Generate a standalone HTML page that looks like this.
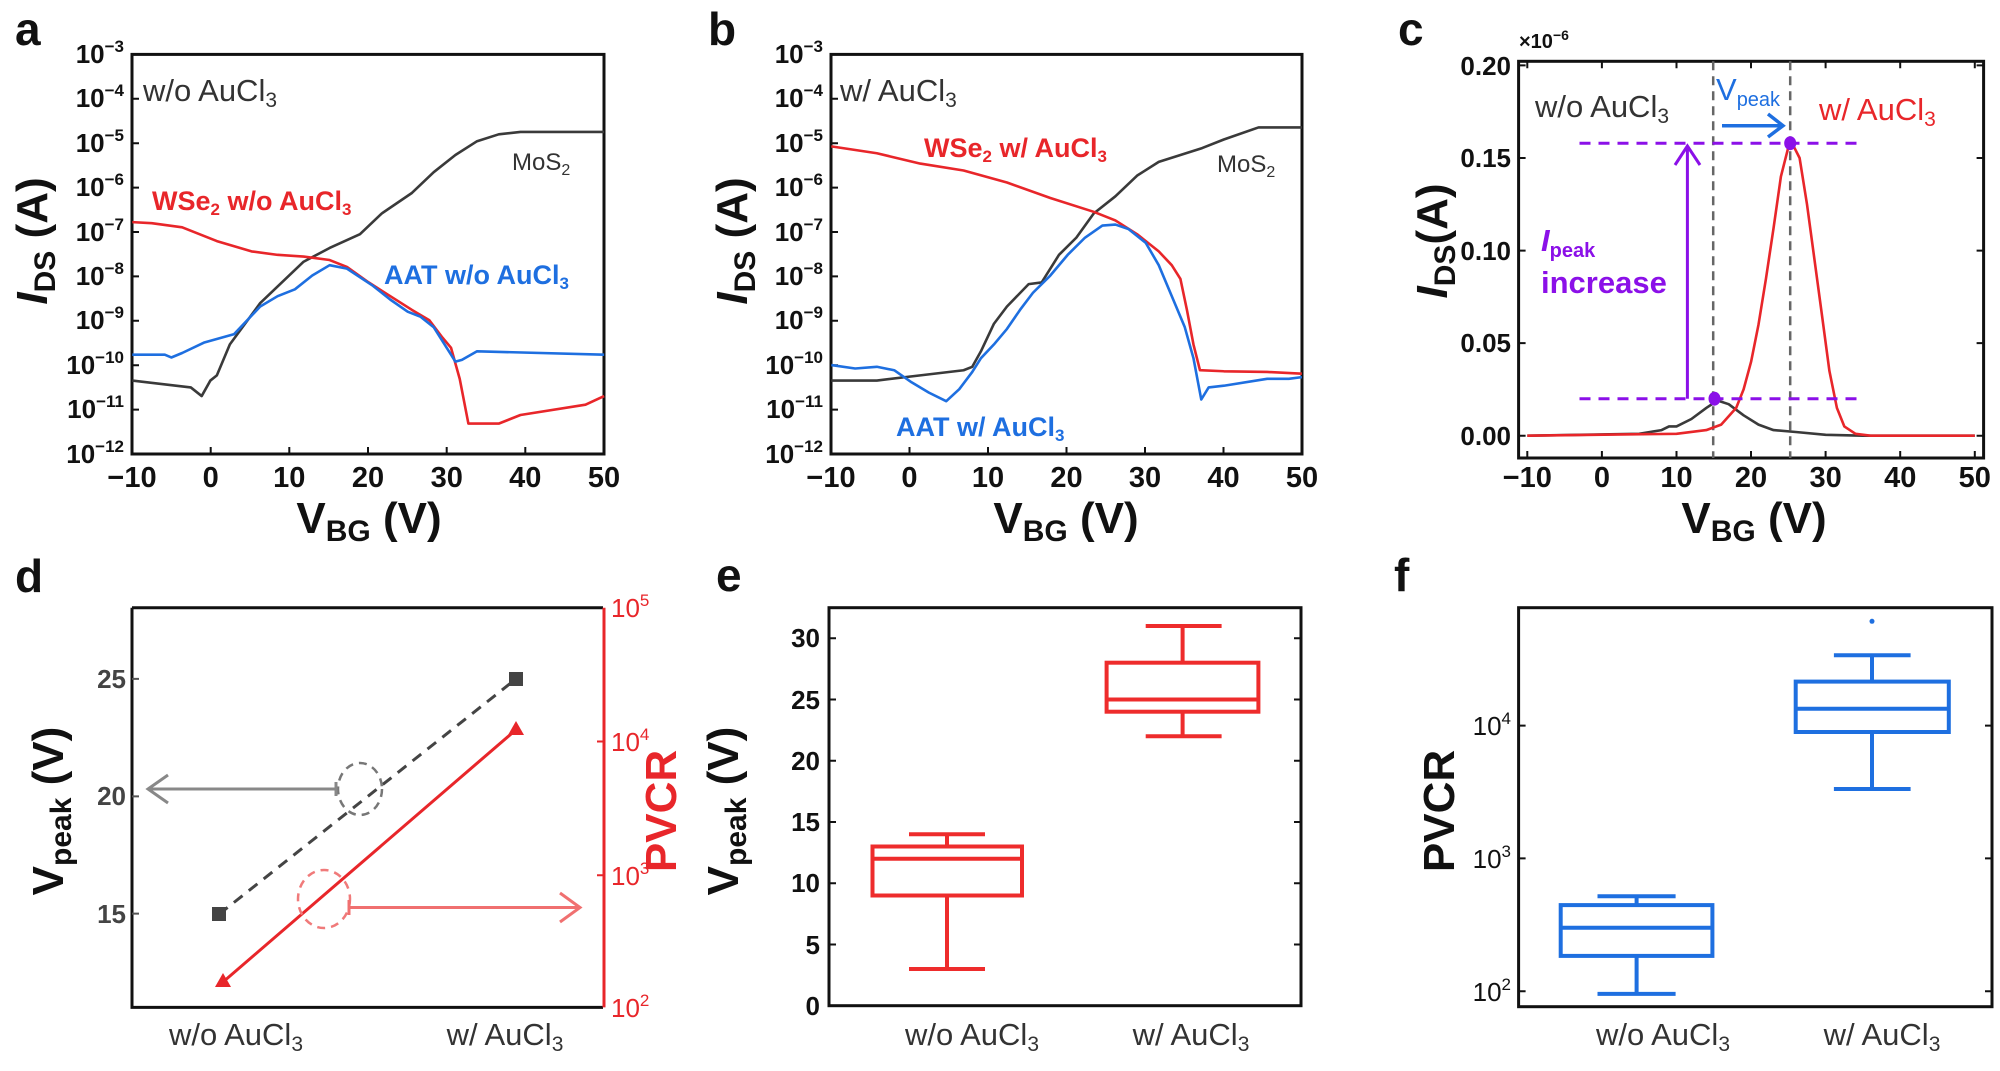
<!DOCTYPE html>
<html><head><meta charset="utf-8"><style>
html,body{margin:0;padding:0;background:#fff;}
svg{display:block;font-family:"Liberation Sans",Arial,sans-serif;}
.tk{font-size:26px;font-weight:bold;fill:#111;}
.sup{font-size:17px;}
.ax{font-size:44px;font-weight:bold;fill:#111;}
.pl{font-size:46px;font-weight:bold;fill:#111;}
.ln{fill:none;stroke-width:2.6;vector-effect:non-scaling-stroke;stroke-linejoin:round;}
</style></head><body>
<svg width="2000" height="1071" viewBox="0 0 2000 1071" xmlns="http://www.w3.org/2000/svg">
<rect width="2000" height="1071" fill="#fff"/>

<!-- ============ Panel a ============ -->
<text class="pl" x="15" y="45">a</text>
<rect x="132" y="54.4" width="472" height="399.6" fill="none" stroke="#111" stroke-width="3"/>
<g class="tk" text-anchor="end">
<text x="124" y="63">10<tspan class="sup" dy="-11">−3</tspan></text>
<text x="124" y="107">10<tspan class="sup" dy="-11">−4</tspan></text>
<text x="124" y="152">10<tspan class="sup" dy="-11">−5</tspan></text>
<text x="124" y="196">10<tspan class="sup" dy="-11">−6</tspan></text>
<text x="124" y="241">10<tspan class="sup" dy="-11">−7</tspan></text>
<text x="124" y="285">10<tspan class="sup" dy="-11">−8</tspan></text>
<text x="124" y="329">10<tspan class="sup" dy="-11">−9</tspan></text>
<text x="124" y="374">10<tspan class="sup" dy="-11">−10</tspan></text>
<text x="124" y="418">10<tspan class="sup" dy="-11">−11</tspan></text>
<text x="124" y="463">10<tspan class="sup" dy="-11">−12</tspan></text>
</g>
<g stroke="#111" stroke-width="2">
<path d="M132 98.8h7M132 143.2h7M132 187.6h7M132 232h7M132 276.4h7M132 320.8h7M132 365.2h7M132 409.6h7"/>
<path d="M210.7 454v-7M289.3 454v-7M368 454v-7M446.7 454v-7M525.3 454v-7"/>
</g>
<g font-size="29" font-weight="bold" fill="#111" text-anchor="middle">
<text x="132" y="487">−10</text><text x="210.7" y="487">0</text><text x="289.3" y="487">10</text><text x="368" y="487">20</text><text x="446.7" y="487">30</text><text x="525.3" y="487">40</text><text x="604" y="487">50</text>
</g>
<text class="ax" x="369" y="533" text-anchor="middle">V<tspan font-size="30" dy="8">BG</tspan><tspan dy="-8"> (V)</tspan></text>
<text class="ax" transform="translate(47,241) rotate(-90)" text-anchor="middle"><tspan font-style="italic">I</tspan><tspan font-size="30" dy="8">DS</tspan><tspan dy="-8"> (A)</tspan></text>
<text x="143" y="101" font-size="31" fill="#333">w/o AuCl<tspan font-size="21" dy="6">3</tspan></text>
<text x="512" y="170" font-size="24" fill="#333">MoS<tspan font-size="16" dy="5">2</tspan></text>
<text x="152" y="210" font-size="27" font-weight="bold" fill="#e8262a">WSe<tspan font-size="17" dy="5">2</tspan><tspan dy="-5"> w/o AuCl</tspan><tspan font-size="17" dy="5">3</tspan></text>
<text x="384" y="284" font-size="27" font-weight="bold" fill="#1e6fe0">AAT w/o AuCl<tspan font-size="17" dy="5">3</tspan></text>
<g transform="scale(0.4337,0.3444)">
<polyline class="ln" stroke="#3a3a3a" points="305,1105 440,1125 465,1150 485,1105 500,1090 530,1000 600,880 700,760 760,720 830,680 880,620 950,560 1000,500 1050,450 1100,410 1150,390 1200,383 1393,383"/>
<polyline class="ln" stroke="#e8262a" points="305,645 350,648 420,660 500,700 580,730 640,740 700,745 760,755 800,775 850,820 900,860 950,900 990,930 1020,980 1040,1010 1060,1100 1080,1230 1150,1230 1200,1205 1350,1175 1393,1150"/>
<polyline class="ln" stroke="#1e6fe0" points="305,1030 380,1030 395,1038 420,1025 470,995 540,970 600,890 640,860 680,840 720,800 760,770 800,780 860,830 900,870 940,905 970,920 1000,950 1040,1030 1050,1050 1065,1045 1100,1020 1393,1030"/>
</g>

<!-- ============ Panel b ============ -->
<text class="pl" x="708" y="45">b</text>
<rect x="831" y="54.4" width="471" height="399.6" fill="none" stroke="#111" stroke-width="3"/>
<g class="tk" text-anchor="end">
<text x="823" y="63">10<tspan class="sup" dy="-11">−3</tspan></text>
<text x="823" y="107">10<tspan class="sup" dy="-11">−4</tspan></text>
<text x="823" y="152">10<tspan class="sup" dy="-11">−5</tspan></text>
<text x="823" y="196">10<tspan class="sup" dy="-11">−6</tspan></text>
<text x="823" y="241">10<tspan class="sup" dy="-11">−7</tspan></text>
<text x="823" y="285">10<tspan class="sup" dy="-11">−8</tspan></text>
<text x="823" y="329">10<tspan class="sup" dy="-11">−9</tspan></text>
<text x="823" y="374">10<tspan class="sup" dy="-11">−10</tspan></text>
<text x="823" y="418">10<tspan class="sup" dy="-11">−11</tspan></text>
<text x="823" y="463">10<tspan class="sup" dy="-11">−12</tspan></text>
</g>
<g stroke="#111" stroke-width="2">
<path d="M831 98.8h7M831 143.2h7M831 187.6h7M831 232h7M831 276.4h7M831 320.8h7M831 365.2h7M831 409.6h7"/>
<path d="M909.5 454v-7M988 454v-7M1066.5 454v-7M1145 454v-7M1223.5 454v-7"/>
</g>
<g font-size="29" font-weight="bold" fill="#111" text-anchor="middle">
<text x="831" y="487">−10</text><text x="909.5" y="487">0</text><text x="988" y="487">10</text><text x="1066.5" y="487">20</text><text x="1145" y="487">30</text><text x="1223.5" y="487">40</text><text x="1302" y="487">50</text>
</g>
<text class="ax" x="1066" y="533" text-anchor="middle">V<tspan font-size="30" dy="8">BG</tspan><tspan dy="-8"> (V)</tspan></text>
<text class="ax" transform="translate(747,241) rotate(-90)" text-anchor="middle"><tspan font-style="italic">I</tspan><tspan font-size="30" dy="8">DS</tspan><tspan dy="-8"> (A)</tspan></text>
<text x="840" y="101" font-size="31" fill="#333">w/ AuCl<tspan font-size="21" dy="6">3</tspan></text>
<text x="1217" y="172" font-size="24" fill="#333">MoS<tspan font-size="16" dy="5">2</tspan></text>
<text x="924" y="157" font-size="27" font-weight="bold" fill="#e8262a">WSe<tspan font-size="17" dy="5">2</tspan><tspan dy="-5"> w/ AuCl</tspan><tspan font-size="17" dy="5">3</tspan></text>
<text x="896" y="436" font-size="27" font-weight="bold" fill="#1e6fe0">AAT w/ AuCl<tspan font-size="17" dy="5">3</tspan></text>
<g transform="translate(660,0) scale(0.4337,0.3444)">
<polyline class="ln" stroke="#3a3a3a" points="395,1105 500,1105 600,1090 700,1075 720,1065 740,1020 770,940 800,890 850,825 880,820 920,740 960,690 1000,620 1050,570 1100,510 1150,470 1250,430 1300,405 1380,370 1480,370"/>
<polyline class="ln" stroke="#e8262a" points="395,425 500,445 600,475 700,495 800,530 900,575 1000,615 1050,640 1100,680 1150,730 1180,770 1200,810 1215,900 1230,1000 1245,1075 1300,1078 1400,1080 1480,1085"/>
<polyline class="ln" stroke="#1e6fe0" points="395,1060 450,1070 500,1065 540,1075 580,1110 620,1140 660,1165 690,1130 720,1080 740,1040 770,1000 800,955 830,900 860,850 900,800 940,740 980,690 1020,655 1050,652 1080,665 1120,705 1150,770 1180,860 1210,950 1230,1040 1248,1160 1265,1125 1300,1120 1400,1100 1450,1100 1480,1095"/>
</g>

<!-- ============ Panel c ============ -->
<text class="pl" x="1398" y="45">c</text>
<text x="1519" y="48" font-size="20" font-weight="bold" fill="#111">×10<tspan font-size="14" dy="-8">−6</tspan></text>
<rect x="1518.6" y="61.3" width="465" height="396.7" fill="none" stroke="#111" stroke-width="3"/>
<g class="tk" text-anchor="end">
<text x="1511" y="75">0.20</text><text x="1511" y="167">0.15</text><text x="1511" y="260">0.10</text><text x="1511" y="352">0.05</text><text x="1511" y="445">0.00</text>
</g>
<g stroke="#111" stroke-width="2">
<path d="M1518.6 65.4h7M1518.6 158h7M1518.6 250.6h7M1518.6 343.1h7M1518.6 435.7h7"/>
<path d="M1527.3 458v-7M1601.9 458v-7M1676.5 458v-7M1751 458v-7M1825.6 458v-7M1900.2 458v-7M1974.8 458v-7"/>
<path d="M1527.3 61.3v7M1601.9 61.3v7M1676.5 61.3v7M1751 61.3v7M1825.6 61.3v7M1900.2 61.3v7M1974.8 61.3v7"/>
<path d="M1983.6 65.4h-7M1983.6 158h-7M1983.6 250.6h-7M1983.6 343.1h-7M1983.6 435.7h-7"/>
</g>
<g font-size="29" font-weight="bold" fill="#111" text-anchor="middle">
<text x="1527.3" y="487">−10</text><text x="1601.9" y="487">0</text><text x="1676.5" y="487">10</text><text x="1751" y="487">20</text><text x="1825.6" y="487">30</text><text x="1900.2" y="487">40</text><text x="1974.8" y="487">50</text>
</g>
<text class="ax" x="1754" y="533" text-anchor="middle">V<tspan font-size="30" dy="8">BG</tspan><tspan dy="-8"> (V)</tspan></text>
<text class="ax" transform="translate(1447,241) rotate(-90)" text-anchor="middle"><tspan font-style="italic">I</tspan><tspan font-size="30" dy="8">DS</tspan><tspan dy="-8">(A)</tspan></text>
<g stroke="#666" stroke-width="2.5" stroke-dasharray="9,6" fill="none">
<path d="M1713.2 61.3V458M1790.2 61.3V458"/>
</g>
<polyline class="ln" stroke="#3a3a3a" points="1527.3,435.7 1639.2,433.8 1661.6,430.1 1669,426.4 1676.5,426.4 1691.4,419 1706.3,407.9 1717.5,400.5 1728.7,404.2 1743.6,415.3 1758.5,424.6 1773.5,430.1 1795.8,432 1825.7,434.8 1863,435.7 1974.8,435.7"/>
<polyline class="ln" stroke="#e8262a" points="1527.3,435.7 1676.5,433.8 1706.3,430.1 1721.2,424.6 1736.2,407.9 1743.6,389.4 1751.1,361.7 1758.5,324.6 1766,278.4 1773.5,228.4 1780.9,176.6 1788.4,146.9 1792.1,143.2 1799.6,158 1807,204.3 1814.5,259.8 1822,315.4 1829.4,370.9 1836.9,407.9 1844.3,426.4 1855.5,433.8 1870.5,435.7 1974.8,435.7"/>
<g stroke="#8b10e8" stroke-width="3" fill="none">
<path d="M1579.5 143.2H1863M1579.5 398.7H1863" stroke-dasharray="11,8"/>
<path d="M1687.4 398.7V146M1675 165L1687.4 146L1700 165"/>
</g>
<ellipse cx="1714.5" cy="398.7" rx="6" ry="7" fill="#8b10e8"/>
<ellipse cx="1790.2" cy="143.2" rx="6" ry="7" fill="#8b10e8"/>
<g stroke="#1e6fe0" stroke-width="3.5" fill="none"><path d="M1722 125.7H1783M1768 114L1783 125.7L1768 137"/></g>
<text x="1535" y="117" font-size="31" fill="#333">w/o AuCl<tspan font-size="21" dy="6">3</tspan></text>
<text x="1819" y="120" font-size="31" fill="#e8262a">w/ AuCl<tspan font-size="21" dy="6">3</tspan></text>
<text x="1716" y="100" font-size="31" fill="#1e6fe0">V<tspan font-size="20" dy="6">peak</tspan></text>
<text x="1541" y="251" font-size="31" font-weight="bold" fill="#8b10e8"><tspan font-style="italic">I</tspan><tspan font-size="20" dy="6">peak</tspan></text>
<text x="1541" y="293" font-size="31" font-weight="bold" fill="#8b10e8">increase</text>

<!-- ============ Panel d ============ -->
<text class="pl" x="15" y="592">d</text>
<path d="M132 607.7H603M132 607.7V1007.4H603" fill="none" stroke="#111" stroke-width="3"/>
<path d="M604 607.7V1007.4" stroke="#e8262a" stroke-width="3"/>
<g stroke="#555" stroke-width="2"><path d="M132 678.9h7M132 796.4h7M132 913.6h7"/></g>
<g stroke="#e8262a" stroke-width="2"><path d="M604 741.5h-7M604 875.3h-7"/></g>
<g font-size="26" font-weight="bold" fill="#444" text-anchor="end">
<text x="126" y="688">25</text><text x="126" y="805">20</text><text x="126" y="923">15</text>
</g>
<g font-size="26" fill="#e8262a">
<text x="611" y="617">10<tspan class="sup" dy="-11">5</tspan></text>
<text x="611" y="751">10<tspan class="sup" dy="-11">4</tspan></text>
<text x="611" y="885">10<tspan class="sup" dy="-11">3</tspan></text>
<text x="611" y="1017">10<tspan class="sup" dy="-11">2</tspan></text>
</g>
<text class="ax" fill="#e8262a" style="fill:#e8262a" transform="translate(676,811) rotate(-90)" text-anchor="middle">PVCR</text>
<text class="ax" transform="translate(63,811) rotate(-90)" text-anchor="middle">V<tspan font-size="30" dy="8">peak</tspan><tspan dy="-8"> (V)</tspan></text>
<path d="M219 914.3L516 678.9" stroke="#444" stroke-width="3" stroke-dasharray="11,8"/>
<path d="M223 982L516 729.7" stroke="#e8262a" stroke-width="3"/>
<rect x="212" y="907" width="14" height="14" fill="#444"/>
<rect x="509" y="672" width="14" height="14" fill="#444"/>
<path d="M223 973L231 987H215Z" fill="#e8262a"/>
<path d="M516 721L524 735H508Z" fill="#e8262a"/>
<ellipse cx="360" cy="789" rx="22" ry="26" fill="none" stroke="#777" stroke-width="2.5" stroke-dasharray="8,6"/>
<ellipse cx="324" cy="899" rx="26" ry="29" fill="none" stroke="#f07a7a" stroke-width="2.5" stroke-dasharray="8,6"/>
<g stroke="#888" stroke-width="3" fill="none"><path d="M336 789H148M168 775L148 789L168 803M336 782V796"/></g>
<g stroke="#f07070" stroke-width="3" fill="none"><path d="M349 907.5H580M560 893L580 907.5L560 922M349 900V915"/></g>
<g font-size="31" fill="#333" text-anchor="middle">
<text x="236" y="1045">w/o AuCl<tspan font-size="21" dy="6">3</tspan></text>
<text x="505" y="1045">w/ AuCl<tspan font-size="21" dy="6">3</tspan></text>
</g>

<!-- ============ Panel e ============ -->
<text class="pl" x="716" y="591">e</text>
<rect x="829" y="607.7" width="472" height="398" fill="none" stroke="#111" stroke-width="3"/>
<g class="tk" text-anchor="end">
<text x="820" y="647">30</text><text x="820" y="709">25</text><text x="820" y="770">20</text><text x="820" y="831">15</text><text x="820" y="892">10</text><text x="820" y="954">5</text><text x="820" y="1015">0</text>
</g>
<g stroke="#111" stroke-width="2"><path d="M829 638.2h7M829 699.5h7M829 760.7h7M829 822h7M829 883.2h7M829 944.5h7M1301 638.2h-7M1301 699.5h-7M1301 760.7h-7M1301 822h-7M1301 883.2h-7M1301 944.5h-7"/></g>
<g stroke="#ee2c2c" stroke-width="4" fill="none">
<rect x="872.5" y="846.5" width="149.5" height="49"/>
<path d="M872.5 858.7H1022M947 846.5V834.2M947 895.5V969M909 834.2H985M909 969H985"/>
<rect x="1106.6" y="662.7" width="151.8" height="49"/>
<path d="M1106.6 699.5H1258.4M1182.6 662.7V626M1182.6 711.7V736.2M1145.7 626H1221.6M1145.7 736.2H1221.6"/>
</g>
<text class="ax" transform="translate(738,811) rotate(-90)" text-anchor="middle">V<tspan font-size="30" dy="8">peak</tspan><tspan dy="-8"> (V)</tspan></text>
<g font-size="31" fill="#333" text-anchor="middle">
<text x="972" y="1045">w/o AuCl<tspan font-size="21" dy="6">3</tspan></text>
<text x="1191" y="1045">w/ AuCl<tspan font-size="21" dy="6">3</tspan></text>
</g>

<!-- ============ Panel f ============ -->
<text class="pl" x="1394" y="591">f</text>
<rect x="1518.6" y="607.7" width="473.4" height="399" fill="none" stroke="#111" stroke-width="3"/>
<g font-size="26" fill="#111" text-anchor="end">
<text x="1511" y="735">10<tspan class="sup" dy="-11">4</tspan></text>
<text x="1511" y="868">10<tspan class="sup" dy="-11">3</tspan></text>
<text x="1511" y="1001">10<tspan class="sup" dy="-11">2</tspan></text>
</g>
<g stroke="#111" stroke-width="2"><path d="M1518.6 725.6h7M1518.6 858.4h7M1518.6 991.2h7M1992 725.6h-7M1992 858.4h-7M1992 991.2h-7"/></g>
<g stroke="#1e6fe0" stroke-width="4" fill="none">
<rect x="1560.7" y="905.1" width="151.7" height="50.8"/>
<path d="M1560.7 927.8H1712.4M1636.6 905.1V896.3M1636.6 955.9V993.9M1597.5 896.3H1675.6M1597.5 993.9H1675.6"/>
<rect x="1795.7" y="681.6" width="153.1" height="50.4"/>
<path d="M1795.7 708.7H1948.8M1872 681.6V655.2M1872 732V789M1833.9 655.2H1910.6M1833.9 789H1910.6"/>
</g>
<circle cx="1872" cy="621.3" r="2.5" fill="#1e6fe0"/>
<text class="ax" transform="translate(1454,811) rotate(-90)" text-anchor="middle">PVCR</text>
<g font-size="31" fill="#333" text-anchor="middle">
<text x="1663" y="1045">w/o AuCl<tspan font-size="21" dy="6">3</tspan></text>
<text x="1882" y="1045">w/ AuCl<tspan font-size="21" dy="6">3</tspan></text>
</g>
</svg>
</body></html>
